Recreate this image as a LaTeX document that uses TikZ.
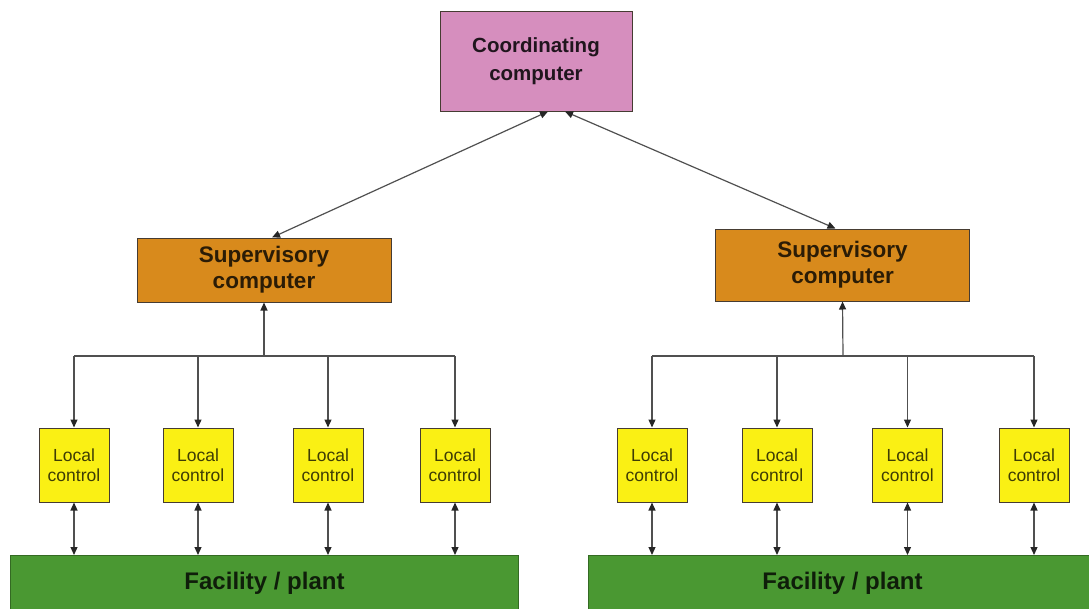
\documentclass[tikz,border=0pt]{standalone}
\usepackage{fontspec}
\setmainfont{Liberation Sans}
\usetikzlibrary{arrows.meta}
\definecolor{pinkbox}{RGB}{214,142,190}
\definecolor{orangebox}{RGB}{216,138,28}
\definecolor{yellowbox}{RGB}{250,240,20}
\definecolor{greenbox}{RGB}{74,152,50}
\definecolor{edgec}{RGB}{70,60,50}
\definecolor{linec}{RGB}{80,80,80}
\tikzset{
  box/.style={draw=edgec, line width=1pt, rectangle, inner sep=0pt, align=center},
  coordbox/.style={box, fill=pinkbox, minimum width=192pt, minimum height=100pt,
    font=\fontsize{20.5}{28}\selectfont\bfseries, text=black!85!pinkbox},
  supbox/.style={box, fill=orangebox, minimum width=254pt,
    font=\fontsize{22.5}{26}\selectfont\bfseries, text=black!80!orangebox},
  localbox/.style={box, fill=yellowbox, minimum width=70pt, minimum height=74pt,
    font=\fontsize{17.5}{20}\selectfont, text=black!75!yellowbox},
  plantbox/.style={box, draw=greenbox!70!black, fill=greenbox, minimum width=508pt, minimum height=56pt,
    font=\fontsize{24}{26}\selectfont\bfseries, text=black!80!greenbox},
  conn/.style={draw=linec, line width=1.2pt},
  tip/.tip={Triangle[length=8pt,width=7pt,color=black!85]},
  arr/.style={conn, -tip},
  dbl/.style={conn, tip-tip},
}
\begin{document}
\begin{tikzpicture}[x=1pt, y=-1pt]
\useasboundingbox (0,0) rectangle (1089,608);
% nodes
\node[coordbox] (coord) at (536,61) {Coordinating\\computer};
\node[supbox, minimum height=64pt] (supL) at (264,270) {Supervisory\\computer};
\node[supbox, minimum height=72pt] (supR) at (842.5,265) {Supervisory\\computer};
\node[localbox] (l1) at (74,465) {Local\\control};
\node[localbox] (l2) at (198,465) {Local\\control};
\node[localbox] (l3) at (328,465) {Local\\control};
\node[localbox] (l4) at (455,465) {Local\\control};
\node[localbox] (r1) at (652,465) {Local\\control};
\node[localbox] (r2) at (777,465) {Local\\control};
\node[localbox] (r3) at (907.5,465) {Local\\control};
\node[localbox] (r4) at (1034,465) {Local\\control};
\node[plantbox, anchor=north west] (plantL) at (10,555) {\raisebox{5pt}{Facility / plant}};
\node[plantbox, anchor=north west] (plantR) at (588,555) {\raisebox{5pt}{Facility / plant}};
% bus junctions
\coordinate (busL) at (264,356);
\coordinate (busR) at (843,356);
% coordinating <-> supervisory
\draw[dbl] ([xshift=12pt]coord.south) -- ([xshift=8pt]supL.north);
\draw[dbl] ([xshift=29pt]coord.south) -- ([xshift=-7pt]supR.north);
% left group
\draw[arr] (busL) -- (supL.south);
\draw[conn] (l1.north |- busL) -- (l4.north |- busL);
\foreach \n in {l1,l2,l3,l4}{
  \draw[arr] (\n.north |- busL) -- (\n.north);
  \draw[dbl] (\n.south) -- (\n.south |- plantL.north);
}
% right group
\draw[arr] (busR) -- (supR.south);
\draw[conn] (r1.north |- busR) -- (r4.north |- busR);
\foreach \n in {r1,r2,r3,r4}{
  \draw[arr] (\n.north |- busR) -- (\n.north);
  \draw[dbl] (\n.south) -- (\n.south |- plantR.north);
}
\end{tikzpicture}
\end{document}
